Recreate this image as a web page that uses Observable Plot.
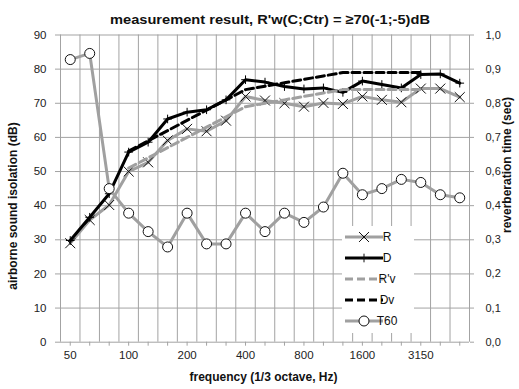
<!DOCTYPE html>
<html>
<head>
<meta charset="utf-8">
<script src="https://cdn.jsdelivr.net/npm/d3@7"></script>
<script src="https://cdn.jsdelivr.net/npm/@observablehq/plot@0.6"></script>
<style>
  html, body { margin: 0; padding: 0; background: #fff; }
  #chart { position: relative; width: 519px; height: 389px; }
  svg { font-family: "Liberation Sans", Arial, sans-serif; }
</style>
</head>
<body>
<div id="chart"></div>
<script>
// 1/3 octave frequency bands
const freqs = ["50","63","80","100","125","160","200","250","315","400","500","630","800","1000","1250","1600","2000","2500","3150","4000","5000"];
// airborne sound isolation (dB)
const R   = [29.0,35.8,40.2,50.0,52.7,59.1,62.5,61.8,64.9,72.0,70.8,70.0,69.0,70.1,69.8,72.0,71.0,70.3,74.3,74.3,71.8];
const D   = [29.8,36.6,43.5,55.7,58.6,65.4,67.4,68.1,71.0,76.9,76.2,74.9,74.2,74.5,73.2,76.5,75.5,74.5,78.4,78.6,75.9];
const Rv  = [null,null,null,51,54,57,60,63,66,69,70,71,72,73,74,74,74,74,74,null,null];
const Dv  = [null,null,null,56,59,62,65,68,71,74,75,76,77,78,79,79,79,79,79,null,null];
// reverberation time (sec)
const T60 = [0.92,0.94,0.50,0.42,0.36,0.31,0.42,0.32,0.32,0.42,0.36,0.42,0.39,0.44,0.55,0.48,0.50,0.53,0.52,0.48,0.47];
// axis ticks
const yTicks = [0,10,20,30,40,50,60,70,80,90];
const rightMax = 1.0;   // right axis 0,0 .. 1,0 maps onto 0 .. 90
const leftMax = 90;
const labelEvery = 3;

const title = "measurement result, R'w(C;Ctr) = \u226570(-1;-5)dB";
const xTitle = "frequency (1/3 octave, Hz)";
const yTitle = "airborne sound isolation (dB)";
const y2Title = "reverberation time (sec)";

const rows = freqs.map((f, i) => ({i, f, R: R[i], D: D[i], Rv: Rv[i], Dv: Dv[i], T60: T60[i]}));
const idx = d3.range(freqs.length);
const bounds = d3.range(freqs.length + 1).map(k => k - 0.5);

const grey = "#a0a0a0";
const grid = "#a3a3a3";
const toLeft = t => t / rightMax * leftMax;

const chart = Plot.plot({
  width: 519,
  height: 389,
  marginLeft: 60,
  marginRight: 50,
  marginTop: 34.5,
  marginBottom: 47.3,
  style: {fontFamily: "'Liberation Sans', Arial, sans-serif", fontSize: "12px", color: "#222", background: "#fff"},
  x: {type: "linear", domain: [-0.5, freqs.length - 0.5]},
  y: {domain: [0, leftMax]},
  marks: [
    // gridlines
    Plot.ruleY(yTicks, {stroke: grid, strokeWidth: 1}),
    Plot.ruleX(bounds, {stroke: grid, strokeWidth: 1}),
    // axes
    Plot.axisX({ticks: idx, tickSize: 4, tickPadding: 5, stroke: grid, fontSize: 11.5,
      tickFormat: i => (i % labelEvery === 0 ? freqs[i] : ""), label: null}),
    Plot.axisY({ticks: yTicks, anchor: "left", tickSize: 5, tickPadding: 9, stroke: grid, fontSize: 11.5, label: null}),
    Plot.axisY({ticks: yTicks, anchor: "right", tickSize: 4, tickPadding: 12, stroke: grid, fontSize: 11, label: null,
      tickFormat: v => (v / leftMax * rightMax).toFixed(1).replace(".", ",")}),
    // series
    Plot.line(rows, {x: "i", y: "R", stroke: grey, strokeWidth: 3}),
    Plot.dot(rows, {x: "i", y: "R", symbol: "times", r: 4.6, stroke: "#111", strokeWidth: 1}),
    Plot.line(rows, {x: "i", y: "D", stroke: "#000", strokeWidth: 3}),
    Plot.dot(rows, {x: "i", y: "D", symbol: "plus", r: 2.9, stroke: "#000", strokeWidth: 1}),
    Plot.line(rows.filter(d => d.Rv != null), {x: "i", y: "Rv", stroke: grey, strokeWidth: 3, strokeDasharray: "8,4"}),
    Plot.line(rows.filter(d => d.Dv != null), {x: "i", y: "Dv", stroke: "#000", strokeWidth: 3, strokeDasharray: "8,4"}),
    Plot.line(rows, {x: "i", y: d => toLeft(d.T60), stroke: grey, strokeWidth: 3}),
    Plot.dot(rows, {x: "i", y: d => toLeft(d.T60), r: 5, fill: "#fff", stroke: "#111", strokeWidth: 1})
  ]
});
document.getElementById("chart").appendChild(chart);

const svg = d3.select(chart);
// titles
const addText = (txt, x, y, rot, size, len) => {
  const t = svg.append("text")
    .attr("transform", `translate(${x},${y})` + (rot ? ` rotate(${rot})` : ""))
    .attr("text-anchor", "middle").attr("dy", "0.35em")
    .attr("font-weight", "bold").attr("font-size", size).attr("fill", "#111").text(txt);
  if (len) t.attr("textLength", len).attr("lengthAdjust", "spacingAndGlyphs");
};
addText(title, 270, 19, 0, 13.5, 320);
addText(xTitle, 263.5, 377, 0, 12);
addText(yTitle, 13, 206, -90, 12);
addText(y2Title, 507, 165, -90, 12);

// legend
const legendItems = [
  {name: "R", stroke: grey, dash: null, symbol: d3.symbolTimes, symSize: 4.6 * 4.6 * Math.PI, fill: "none"},
  {name: "D", stroke: "#000", dash: null, symbol: d3.symbolPlus, symSize: 2.9 * 2.9 * Math.PI, fill: "none"},
  {name: "R'v", stroke: grey, dash: "8,4"},
  {name: "Dv", stroke: "#000", dash: "8,4"},
  {name: "T60", stroke: grey, dash: null, symbol: d3.symbolCircle, symSize: 25 * Math.PI, fill: "#fff"}
];
const lg = svg.append("g").attr("transform", "translate(342,226)");
lg.append("rect").attr("width", 72).attr("height", 107).attr("fill", "#fff");
legendItems.forEach((it, k) => {
  const g = lg.append("g").attr("transform", `translate(0,${11 + k * 21})`);
  g.append("line").attr("x1", 3).attr("x2", 41).attr("stroke", it.stroke).attr("stroke-width", 3)
    .attr("stroke-dasharray", it.dash);
  if (it.symbol) {
    g.append("path").attr("transform", "translate(22,0)").attr("d", d3.symbol(it.symbol, it.symSize)())
      .attr("fill", it.fill).attr("stroke", "#111").attr("stroke-width", 1);
  }
  g.append("text").attr("x", 45).attr("dy", "0.35em").attr("font-size", 12).attr("fill", "#111").text(it.name);
});
</script>
</body>
</html>
